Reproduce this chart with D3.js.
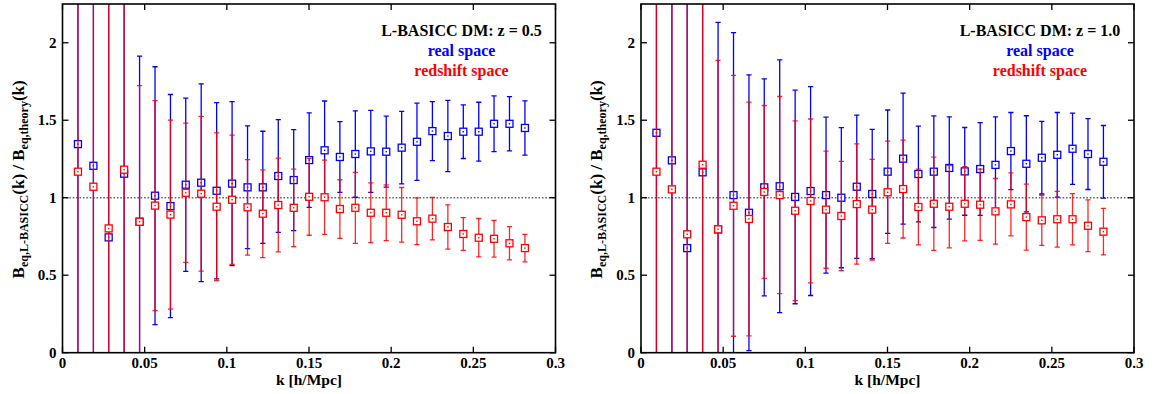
<!DOCTYPE html>
<html>
<head>
<meta charset="utf-8">
<script src="https://cdn.jsdelivr.net/npm/d3@7"></script>
<style>
	body{margin:0;background:#fff;}
	svg{display:block;font-family:"Liberation Serif","Times New Roman","DejaVu Serif",serif;font-weight:bold;}
</style>
</head>
<body>
<svg width="1157" height="394"></svg>
<script>
// wavenumbers of the bins, h/Mpc
const kValues = [0.0094, 0.0188, 0.0281, 0.0375, 0.0469, 0.0563, 0.0657, 0.0750, 0.0844, 0.0938,
	0.1032, 0.1126, 0.1219, 0.1313, 0.1407, 0.1501, 0.1595, 0.1688, 0.1782, 0.1876,
	0.1970, 0.2064, 0.2157, 0.2251, 0.2345, 0.2439, 0.2533, 0.2626, 0.2720, 0.2814];

const xTicks = [0, 0.05, 0.1, 0.15, 0.2, 0.25, 0.3];
const yTicks = [0, 0.5, 1, 1.5, 2];

const seriesNames = ["real space", "redshift space"];
const panelTitles = ["L-BASICC DM: z = 0.5", "L-BASICC DM: z = 1.0"];

// z = 0.5
const realZ05 = [1.346, 1.206, 0.744, 1.155, 0.845, 1.013, 0.946, 1.084, 1.097, 1.045,
	1.091, 1.067, 1.067, 1.140, 1.114, 1.243, 1.306, 1.263, 1.282, 1.299,
	1.297, 1.323, 1.361, 1.430, 1.398, 1.426, 1.426, 1.477, 1.477, 1.450];
const realZ05Err = [2.4, 2.2, 1.9, 1.6, 1.069, 0.832, 0.720, 0.559, 0.638, 0.569,
	0.529, 0.396, 0.362, 0.364, 0.326, 0.305, 0.318, 0.228, 0.279, 0.265,
	0.229, 0.234, 0.249, 0.190, 0.230, 0.173, 0.190, 0.180, 0.175, 0.175];
const redZ05 = [1.168, 1.071, 0.802, 1.181, 0.845, 0.949, 0.891, 1.032, 1.026, 0.942,
	0.987, 0.938, 0.897, 0.953, 0.935, 1.006, 1.003, 0.927, 0.935, 0.903,
	0.903, 0.890, 0.848, 0.865, 0.811, 0.766, 0.742, 0.735, 0.706, 0.675];
const redZ05Err = [2.5, 2.3, 2.0, 1.7, 0.878, 0.678, 0.610, 0.449, 0.499, 0.477,
	0.417, 0.308, 0.283, 0.303, 0.250, 0.248, 0.239, 0.189, 0.229, 0.193,
	0.180, 0.176, 0.151, 0.137, 0.143, 0.106, 0.124, 0.118, 0.107, 0.089];

// z = 1.0
const realZ10 = [1.419, 1.241, 0.675, 1.164, 0.796, 1.017, 0.903, 1.067, 1.074, 1.005,
	1.043, 1.017, 1.000, 1.071, 1.024, 1.168, 1.252, 1.153, 1.168, 1.192,
	1.170, 1.185, 1.212, 1.301, 1.219, 1.258, 1.277, 1.316, 1.282, 1.232];
const realZ10Err = [2.2, 2.0, 1.9, 1.7, 1.335, 1.048, 0.890, 0.700, 0.815, 0.689,
	0.674, 0.503, 0.452, 0.462, 0.417, 0.398, 0.423, 0.309, 0.360, 0.330,
	0.283, 0.299, 0.310, 0.249, 0.310, 0.234, 0.273, 0.230, 0.229, 0.234];
const redZ10 = [1.168, 1.054, 0.764, 1.213, 0.796, 0.948, 0.863, 1.037, 1.017, 0.916,
	0.979, 0.923, 0.882, 0.959, 0.923, 1.035, 1.056, 0.940, 0.961, 0.942,
	0.961, 0.955, 0.912, 0.957, 0.875, 0.854, 0.861, 0.861, 0.819, 0.781];
const redZ10Err = [2.3, 2.1, 1.8, 1.6, 1.090, 0.842, 0.754, 0.558, 0.636, 0.580,
	0.529, 0.378, 0.352, 0.388, 0.325, 0.330, 0.316, 0.244, 0.301, 0.265,
	0.240, 0.230, 0.212, 0.203, 0.213, 0.162, 0.180, 0.165, 0.167, 0.150];

const BLUE = "#0000ff";
const RED = "#ff0000";

class Panel{
	constructor(svg, id, left, title, series){
		this.svg = svg;
		this.id = id;
		this.box = {left: left, right: left + 493, top: 4, bottom: 352.7};
		this.title = title;
		this.series = series;
		this.x = d3.scaleLinear().domain([0, 0.3]).range([this.box.left, this.box.right]);
		this.y = d3.scaleLinear().domain([0, 2.25]).range([this.box.bottom, this.box.top]);
		this.g = svg.append("g");
	}

	draw(){
		let b = this.box;
		let g = this.g;

		g.append("clipPath")
			.attr("id", "clip" + this.id)
			.append("rect")
			.attr("x", b.left)
			.attr("y", b.top)
			.attr("width", b.right - b.left)
			.attr("height", b.bottom - b.top);

		// reference line at ratio 1
		g.append("line")
			.attr("x1", b.left)
			.attr("x2", b.right)
			.attr("y1", this.y(1))
			.attr("y2", this.y(1))
			.attr("stroke", "#666")
			.attr("stroke-width", 1.5)
			.attr("stroke-dasharray", "1.6,1.8");

		let plot = g.append("g").attr("clip-path", `url(#clip${this.id})`);
		this.series.forEach(s => this.drawSeries(plot, s));

		this.axes();
		this.labels();
	}

	drawSeries(plot, s){
		let pts = kValues.map((k, i) => ({k: k, v: s.values[i], e: s.errors[i]}));
		let x = this.x, y = this.y;
		let cap = 2.6;
		let bars = plot.append("g")
			.attr("stroke", s.color)
			.attr("stroke-width", 1.3)
			.attr("stroke-opacity", s.opacity);

		bars.selectAll("line.bar")
			.data(pts)
			.join("line")
			.attr("class", "bar")
			.attr("x1", d => x(d.k))
			.attr("x2", d => x(d.k))
			.attr("y1", d => y(d.v - d.e))
			.attr("y2", d => y(d.v + d.e));

		bars.selectAll("line.top")
			.data(pts)
			.join("line")
			.attr("class", "top")
			.attr("x1", d => x(d.k) - cap)
			.attr("x2", d => x(d.k) + cap)
			.attr("y1", d => y(d.v + d.e))
			.attr("y2", d => y(d.v + d.e));

		bars.selectAll("line.bottom")
			.data(pts)
			.join("line")
			.attr("class", "bottom")
			.attr("x1", d => x(d.k) - cap)
			.attr("x2", d => x(d.k) + cap)
			.attr("y1", d => y(d.v - d.e))
			.attr("y2", d => y(d.v - d.e));

		let size = 7;
		plot.append("g")
			.selectAll("rect")
			.data(pts)
			.join("rect")
			.attr("x", d => x(d.k) - size / 2)
			.attr("y", d => y(d.v) - size / 2)
			.attr("width", size)
			.attr("height", size)
			.attr("fill", "#fff")
			.attr("stroke", s.color)
			.attr("stroke-width", 1.3);

		plot.append("g")
			.selectAll("rect")
			.data(pts)
			.join("rect")
			.attr("x", d => x(d.k) - 0.7)
			.attr("y", d => y(d.v) - 0.7)
			.attr("width", 1.4)
			.attr("height", 1.4)
			.attr("fill", s.color);
	}

	axes(){
		let b = this.box;
		let g = this.g;
		let tl = 6;
		let ticks = g.append("g").attr("stroke", "#000").attr("stroke-width", 1.3);

		xTicks.forEach(t => {
			ticks.append("line")
				.attr("x1", this.x(t)).attr("x2", this.x(t))
				.attr("y1", b.bottom).attr("y2", b.bottom - tl);
			ticks.append("line")
				.attr("x1", this.x(t)).attr("x2", this.x(t))
				.attr("y1", b.top).attr("y2", b.top + tl);
		});
		yTicks.forEach(t => {
			ticks.append("line")
				.attr("x1", b.left).attr("x2", b.left + tl)
				.attr("y1", this.y(t)).attr("y2", this.y(t));
			ticks.append("line")
				.attr("x1", b.right).attr("x2", b.right - tl)
				.attr("y1", this.y(t)).attr("y2", this.y(t));
		});

		g.append("rect")
			.attr("x", b.left)
			.attr("y", b.top)
			.attr("width", b.right - b.left)
			.attr("height", b.bottom - b.top)
			.attr("fill", "none")
			.attr("stroke", "#000")
			.attr("stroke-width", 1.6);

		g.selectAll("text.xt")
			.data(xTicks)
			.join("text")
			.attr("class", "xt")
			.attr("x", d => this.x(d))
			.attr("y", 367.5)
			.attr("text-anchor", "middle")
			.attr("font-size", 15)
			.text(d => d3.format("~g")(d));

		g.selectAll("text.yt")
			.data(yTicks)
			.join("text")
			.attr("class", "yt")
			.attr("x", b.left - 6)
			.attr("y", d => this.y(d) + 5)
			.attr("text-anchor", "end")
			.attr("font-size", 15)
			.text(d => d3.format("~g")(d));
	}

	labels(){
		let b = this.box;
		let g = this.g;

		g.append("text")
			.attr("x", (b.left + b.right) / 2)
			.attr("y", 385)
			.attr("text-anchor", "middle")
			.attr("font-size", 15.5)
			.text("k [h/Mpc]");

		let yl = g.append("text")
			.attr("transform", `translate(${b.left - 39},${(b.top + b.bottom) / 2 + 1}) rotate(-90)`)
			.attr("text-anchor", "middle")
			.attr("font-size", 17);
		yl.append("tspan").text("B");
		yl.append("tspan").attr("font-size", 12).attr("dy", 4).text("eq,L-BASICC");
		yl.append("tspan").attr("dy", -4).text("(k) / B");
		yl.append("tspan").attr("font-size", 12).attr("dy", 4).text("eq,theory");
		yl.append("tspan").attr("dy", -4).text("(k)");

		let cx = b.right - 94;
		g.append("text")
			.attr("x", cx).attr("y", 36)
			.attr("text-anchor", "middle")
			.attr("font-size", 16)
			.attr("fill", "#000")
			.text(this.title);
		this.series.forEach((s, i) => {
			g.append("text")
				.attr("x", cx).attr("y", 56 + i * 20)
				.attr("text-anchor", "middle")
				.attr("font-size", 16)
				.attr("fill", s.color)
				.text(s.name);
		});
	}
}

let svg = d3.select("svg");

let left = new Panel(svg, 0, 62.5, panelTitles[0], [
	{name: seriesNames[0], color: BLUE, opacity: 1, values: realZ05, errors: realZ05Err},
	{name: seriesNames[1], color: RED, opacity: 0.85, values: redZ05, errors: redZ05Err}
]);
left.draw();

let right = new Panel(svg, 1, 641, panelTitles[1], [
	{name: seriesNames[0], color: BLUE, opacity: 1, values: realZ10, errors: realZ10Err},
	{name: seriesNames[1], color: RED, opacity: 0.85, values: redZ10, errors: redZ10Err}
]);
right.draw();
</script>
</body>
</html>
